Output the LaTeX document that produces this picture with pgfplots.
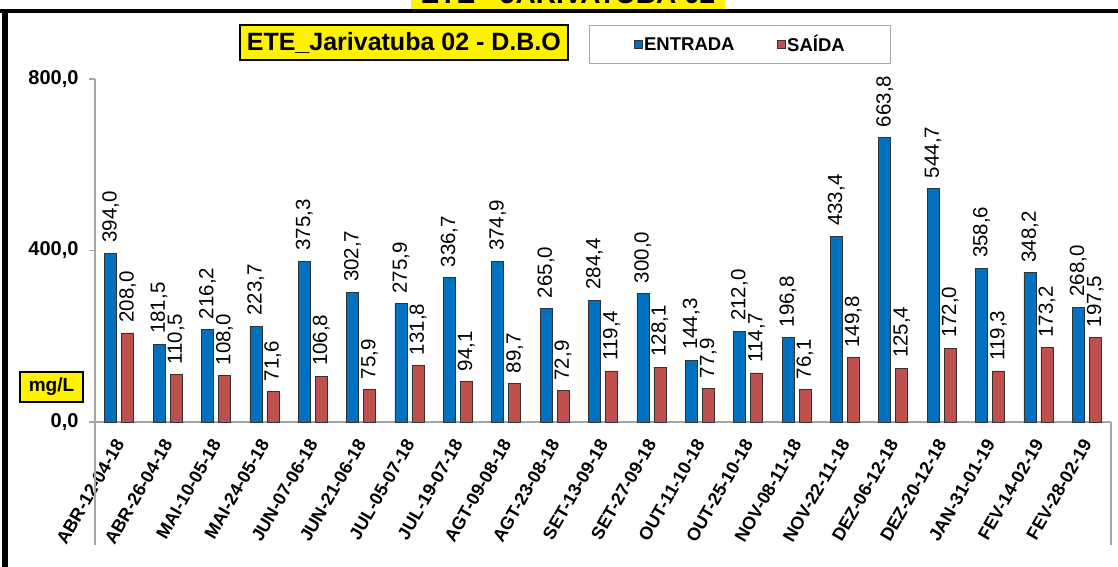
\documentclass[border=0pt]{standalone}
\usepackage{fontspec}
\setmainfont{Liberation Sans}
\usepackage{pgfplots}
\usepackage{pgfplotstable}
\pgfplotsset{compat=1.18}
\definecolor{entrada}{HTML}{0070C0}
\definecolor{saida}{HTML}{C0504D}
\definecolor{axisgray}{HTML}{A6A6A6}
\pgfplotsset{sqlegend/.style={legend image code/.code={\draw[##1,/tikz/.cd] (0pt,-4pt) rectangle (8pt,4pt);}}}

\pgfplotstableread{
x entrada saida
0 394.0 208.0
1 181.5 110.5
2 216.2 108.0
3 223.7 71.6
4 375.3 106.8
5 302.7 75.9
6 275.9 131.8
7 336.7 94.1
8 374.9 89.7
9 265.0 72.9
10 284.4 119.4
11 300.0 128.1
12 144.3 77.9
13 212.0 114.7
14 196.8 76.1
15 433.4 149.8
16 663.8 125.4
17 544.7 172.0
18 358.6 119.3
19 348.2 173.2
20 268.0 197.5
}\datatable

\begin{document}
\begin{tikzpicture}
\fill[yellow] (411pt,557pt) rectangle (725pt,567pt);
\node[anchor=base, font=\bfseries\fontsize{28}{32}\selectfont, inner sep=0pt] at (568pt,563pt) {ETE - JARIVATUBA 02};
\fill[black] (0pt,554pt) rectangle (1118pt,557.5pt);
\fill[black] (2pt,0pt) rectangle (8pt,557pt);

\begin{axis}[
  at={(95pt,145pt)}, anchor=south west,
  scale only axis, width=1016pt, height=343pt,
  xmin=-0.5, xmax=20.5, ymin=0, ymax=800,
  axis x line*=bottom, axis y line*=left,
  axis line style={draw=axisgray, line width=1.2pt},
  ybar=5pt, bar width=12pt,
  xtick={0,...,20},
  xticklabels={ABR-12-04-18,ABR-26-04-18,MAI-10-05-18,MAI-24-05-18,JUN-07-06-18,JUN-21-06-18,JUL-05-07-18,JUL-19-07-18,AGT-09-08-18,AGT-23-08-18,SET-13-09-18,SET-27-09-18,OUT-11-10-18,OUT-25-10-18,NOV-08-11-18,NOV-22-11-18,DEZ-06-12-18,DEZ-20-12-18,JAN-31-01-19,FEV-14-02-19,FEV-28-02-19},
  xtick style={draw=none},
  ytick={0,400,800},
  yticklabels={{0,0},{400,0},{800,0}},
  ytick style={draw=axisgray, line width=1.2pt},
  major tick length=6pt, tick align=outside,
  yticklabel style={font=\bfseries\fontsize{20}{24}\selectfont, xshift=-7pt},
  xticklabel style={yshift=-10pt, xshift=2pt, font=\bfseries\fontsize{18}{22}\selectfont, rotate=60, anchor=east},
  clip=false,
  nodes near coords={\pgfmathprintnumber[fixed, fixed zerofill, precision=1, use comma, assume math mode=true]{\pgfplotspointmeta}},
  every node near coord/.append style={rotate=90, anchor=west, font=\fontsize{20.5}{24}\selectfont, inner xsep=10pt, text=black},
  title={ETE\_Jarivatuba 02 - D.B.O},
  title style={at={(0.304,1.089)}, anchor=center, fill=yellow, draw=black, line width=1.5pt, font=\bfseries\fontsize{25}{29}\selectfont, minimum width=328pt, minimum height=35pt, inner sep=0pt},
  ylabel={mg/L},
  ylabel style={rotate=-90, at={(-0.0428,0.102)}, anchor=center, fill=yellow, draw=black, line width=1.5pt, font=\bfseries\fontsize{19}{22}\selectfont, minimum width=63pt, minimum height=30pt, inner sep=0pt},
  legend style={at={(0.635,1.1006)}, anchor=center, legend columns=2, draw=axisgray, line width=1pt, font=\bfseries\fontsize{18.5}{22}\selectfont, inner xsep=44pt, inner ysep=8pt, /tikz/every even column/.append style={column sep=40pt}},
  legend cell align=left,
]
\addplot[fill=entrada, draw=black!80, line width=0.6pt, sqlegend] table[x=x,y=entrada]{\datatable};
\addplot[fill=saida, draw=black!80, line width=0.6pt, sqlegend] table[x=x,y=saida]{\datatable};
\legend{ENTRADA, SAÍDA}
\end{axis}
\draw[axisgray, line width=1.2pt] (95pt,145pt) -- (95pt,22pt);
\draw[axisgray, line width=1.2pt] (1111pt,145pt) -- (1111pt,22pt);
\pgfresetboundingbox
\path[use as bounding box] (0pt,0pt) rectangle (1118pt,567pt);
\end{tikzpicture}
\end{document}
